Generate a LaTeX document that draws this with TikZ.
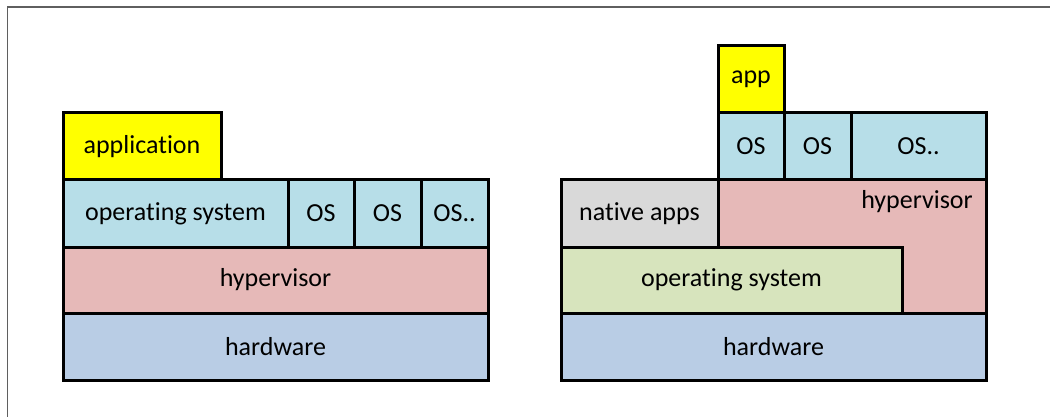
\documentclass[tikz,border=0pt]{standalone}
\usepackage{fontspec}
\setmainfont{Carlito}[Ligatures=NoCommon]
\usetikzlibrary{positioning}

\definecolor{hwblue}{HTML}{B9CDE5}
\definecolor{hvpink}{HTML}{E6B9B8}
\definecolor{osblue}{HTML}{B7DEE8}
\definecolor{osgreen}{HTML}{D7E4BD}
\definecolor{appyellow}{HTML}{FFFF00}
\definecolor{nativegray}{HTML}{D9D9D9}
\definecolor{framegray}{HTML}{5F5F5F}

\begin{document}
\begin{tikzpicture}[x=1pt, y=-1pt,
    layer/.style={draw=black, line width=3pt, outer sep=0pt, inner sep=0pt,
      anchor=north west, text=black, font=\fontsize{26}{30}\selectfont},
    label/.style={text=black, font=\fontsize{26}{30}\selectfont}]
  \useasboundingbox (0,0) rectangle (1050,417);
  \draw[line width=1.5pt, framegray] (7.5,417) -- (7.5,7) -- (1050,7);

  % left stack
  \node[layer, fill=hwblue, minimum width=425, minimum height=67] (hwL) at (63,313) {hardware};
  \node[layer, fill=hvpink, minimum width=425, minimum height=66] (hypL) at (63,247) {hypervisor};
  \node[layer, fill=osblue, minimum width=225, minimum height=67] (osL) at (63,180) {operating system};
  \node[layer, fill=osblue, minimum width=66, minimum height=67] (osLa) at (288,180) {OS};
  \node[layer, fill=osblue, minimum width=67, minimum height=67] (osLb) at (354,180) {OS};
  \node[layer, fill=osblue, minimum width=67, minimum height=67] (osLc) at (421,180) {OS..};
  \node[layer, fill=appyellow, minimum width=158, minimum height=67] (appL) at (63,113) {application};

  % right stack
  \node[layer, fill=hwblue, minimum width=425, minimum height=67] (hwR) at (561,313) {hardware};
  \filldraw[fill=hvpink, draw=black, line width=3pt, line join=miter]
    (718,180) -- (986,180) -- (986,313) -- (902,313) -- (902,247) -- (718,247) -- cycle;
  \node[label] (hypR) at (917,202) {hypervisor};
  \node[layer, fill=osgreen, minimum width=341, minimum height=66] (osR) at (561,247) {operating system};
  \node[layer, fill=nativegray, minimum width=157, minimum height=67] (native) at (561,180) {native apps};
  \node[layer, fill=osblue, minimum width=66, minimum height=67] (osRa) at (718,113) {OS};
  \node[layer, fill=osblue, minimum width=67, minimum height=67] (osRb) at (784,113) {OS};
  \node[layer, fill=osblue, minimum width=135, minimum height=67] (osRc) at (851,113) {OS..};
  \node[layer, fill=appyellow, minimum width=66, minimum height=67] (appR) at (718,46) {app};
\end{tikzpicture}
\end{document}
